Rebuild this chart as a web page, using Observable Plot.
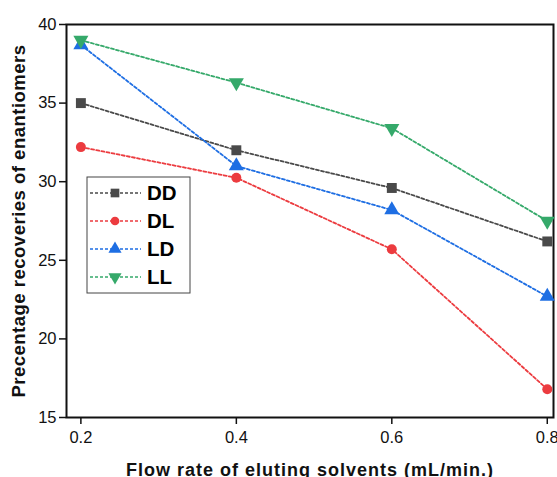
<!DOCTYPE html>
<html><head><meta charset="utf-8">
<script src="https://cdn.jsdelivr.net/npm/d3@7"></script>
<script src="https://cdn.jsdelivr.net/npm/@observablehq/plot@0.6"></script>
<style>
body{margin:0;background:#fff;}
#chart{position:relative;width:557px;height:477px;overflow:hidden;background:#fff;}
svg{font-family:"Liberation Sans",Arial,sans-serif;}
</style></head><body><div id="chart"></div>
<script>
const flowRates = [0.2, 0.4, 0.6, 0.8];
const seriesNames = ["DD", "DL", "LD", "LL"];
const DD = [35.0, 32.0, 29.6, 26.2];
const DL = [32.2, 30.25, 25.7, 16.8];
const LD = [38.7, 31.0, 28.2, 22.7];
const LL = [39.0, 36.3, 33.4, 27.5];
const yTicks = [15, 20, 25, 30, 35, 40];
const colors = {DD: "#4a4a4a", DL: "#ec3b3f", LD: "#1e6ee3", LL: "#35a96a"};

const triangleDown = {
  draw(context, size) {
    const y = -Math.sqrt(size / (3 * Math.sqrt(3)));
    context.moveTo(0, -y * 2);
    context.lineTo(-Math.sqrt(3) * y, y);
    context.lineTo(Math.sqrt(3) * y, y);
    context.closePath();
  }
};
const symbols = {DD: "square", DL: "circle", LD: "triangle", LL: triangleDown};
const valuesBy = {DD, DL, LD, LL};
const data = seriesNames.flatMap(s => flowRates.map((x, i) => ({series: s, x, y: valuesBy[s][i]})));

const plot = Plot.plot({
  width: 557, height: 477,
  marginLeft: 66, marginTop: 24, marginRight: 4, marginBottom: 60,
  style: {fontFamily: "'Liberation Sans', Arial, sans-serif", background: "transparent", overflow: "visible"},
  x: {domain: [0.1815, 0.808]},
  y: {domain: [15, 40]},
  marks: [
    Plot.frame({stroke: "#111", strokeWidth: 2}),
    Plot.axisY({ticks: yTicks, tickSize: 7, tickPadding: 3, fontSize: 16.5, stroke: "#111", strokeWidth: 1.5, label: null, fill: "#111"}),
    Plot.axisX({ticks: flowRates, tickSize: 7, tickPadding: 7, fontSize: 16.5, stroke: "#111", strokeWidth: 1.5, label: null, fill: "#111", tickFormat: d3.format(".1f")}),
    ...seriesNames.map(s => Plot.line(data.filter(d => d.series === s), {x: "x", y: "y", stroke: colors[s], strokeWidth: 1.8, strokeDasharray: "3,2.2"})),
    ...seriesNames.map(s => Plot.dot(data.filter(d => d.series === s), {x: "x", y: "y", fill: colors[s], stroke: "none", symbol: () => symbols[s], r: s === "DL" ? 5 : 5.6})),
    Plot.text(["Flow rate of eluting solvents (mL/min.)"], {frameAnchor: "bottom", dy: 53, lineAnchor: "middle", fontSize: 18, fontWeight: "bold", fill: "#111", text: d => d, className: "xlab"}),
    Plot.text(["Precentage recoveries of enantiomers"], {frameAnchor: "left", dx: -47, rotate: -90, textAnchor: "middle", fontSize: 18.5, fontWeight: "bold", fill: "#111", text: d => d, className: "ylab"})
  ]
});
document.getElementById("chart").appendChild(plot);
d3.select(plot).selectAll(".xlab text").attr("letter-spacing", "1px");
d3.select(plot).selectAll(".ylab text").attr("letter-spacing", "0.5px");

// Legend
const svg = d3.select(plot);
const lg = svg.append("g").attr("transform", "translate(87,177)");
lg.append("rect").attr("width", 103).attr("height", 116).attr("fill", "#fff").attr("stroke", "#444").attr("stroke-width", 1);
seriesNames.forEach((s, i) => {
  const yy = 16 + i * 28;
  lg.append("line").attr("x1", 3).attr("x2", 54).attr("y1", yy).attr("y2", yy)
    .attr("stroke", colors[s]).attr("stroke-width", 1.5).attr("stroke-dasharray", "3,2");
  const sym = typeof symbols[s] === "string" ? {square: d3.symbolSquare, circle: d3.symbolCircle, triangle: d3.symbolTriangle}[symbols[s]] : symbols[s];
  lg.append("path").attr("d", d3.symbol(sym, s === "DL" ? 60 : 75)()).attr("transform", `translate(28,${yy})`).attr("fill", colors[s]);
  lg.append("text").attr("x", 60).attr("y", yy).attr("dy", "0.36em").attr("text-anchor", "start")
    .attr("font-size", 20.5).attr("font-weight", "bold").attr("fill", "#000").text(s);
});
</script></body></html>
